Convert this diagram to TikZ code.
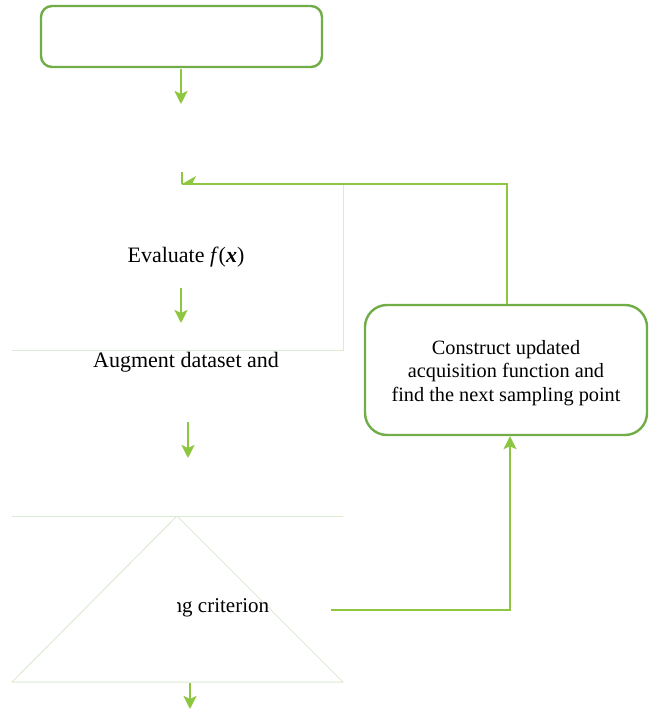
\documentclass[tikz,border=0pt]{standalone}
\usepackage{fontspec}
\setmainfont{Liberation Serif}
\usetikzlibrary{arrows.meta}
\definecolor{boxgreen}{HTML}{70AD47}
\definecolor{arrgreen}{HTML}{8DC63F}
\definecolor{faint}{HTML}{DDEBD2}
\tikzset{
  rbox/.style={draw=boxgreen, line width=2.4pt, fill=white, align=center},
  conn/.style={draw=arrgreen, line width=2.4pt},
  arr/.style={conn, -{Stealth[length=13pt,width=13pt,inset=3pt]}},
  faintline/.style={draw=faint, line width=1pt},
  lbl/.style={font=\rmfamily\fontsize{22}{26}\selectfont, inner sep=0pt}
}
\begin{document}
\begin{tikzpicture}[x=1pt,y=-1pt]
\useasboundingbox (0,0) rectangle (650,709);
% faint frames
\draw[faintline] (343,184) -- (343,350) -- (12,350);
\draw[faintline] (12,516) -- (343,516);
\draw[faintline] (177,516) -- (12,682) -- (343,682) -- cycle;
% top box
\node[rbox, rounded corners=11pt, minimum width=281pt, minimum height=61pt] (start) at (181.5,36.5) {};
% texts
\node[lbl] (eval) at (186,257) {Evaluate \textit{f}(\textbf{\textit{x}})};
\node[lbl, anchor=base] (aug) at (186,367) {Augment dataset and};
\begin{scope}
\clip (177,580) rectangle (300,630);
\node[lbl, font=\rmfamily\fontsize{21}{25}\selectfont, anchor=base west] (crit) at (171.5,612) {ng criterion};
\end{scope}
% right box
\node[rbox, rounded corners=22pt, minimum width=282pt, minimum height=130pt] (acq) at (506,370) {};
\node[align=center, inner sep=0pt, font=\rmfamily\fontsize{20.3}{23.5}\selectfont] (acqtext) at (506,373)
  {Construct updated\\ acquisition function and\\ find the next sampling point};
% arrows
\coordinate (a1s) at (181,69);  \coordinate (a1e) at (181,104);
\coordinate (a2s) at (181,288); \coordinate (a2e) at (181,323);
\coordinate (a3s) at (188,422); \coordinate (a3e) at (188,458);
\coordinate (a4s) at (190,683); \coordinate (a4e) at (190,709);
\draw[arr] (a1s) -- (a1e);
\draw[arr] (a2s) -- (a2e);
\draw[arr] (a3s) -- (a3e);
\draw[arr] (a4s) -- (a4e);
% loop from criterion to acquisition
\coordinate (c1) at (331,610);
\draw[arr] (c1) -| (acq.south -| 510,0);
% loop back to top
\coordinate (back) at (182,184);
\coordinate (tick) at (182,172);
\draw[conn] (acq.north -| 507,0) |- (back);
\draw[conn, line width=2pt] (tick) -- (back);
\fill[arrgreen] (back) -- (196,176) -- (192,184) -- cycle;
\end{tikzpicture}
\end{document}
